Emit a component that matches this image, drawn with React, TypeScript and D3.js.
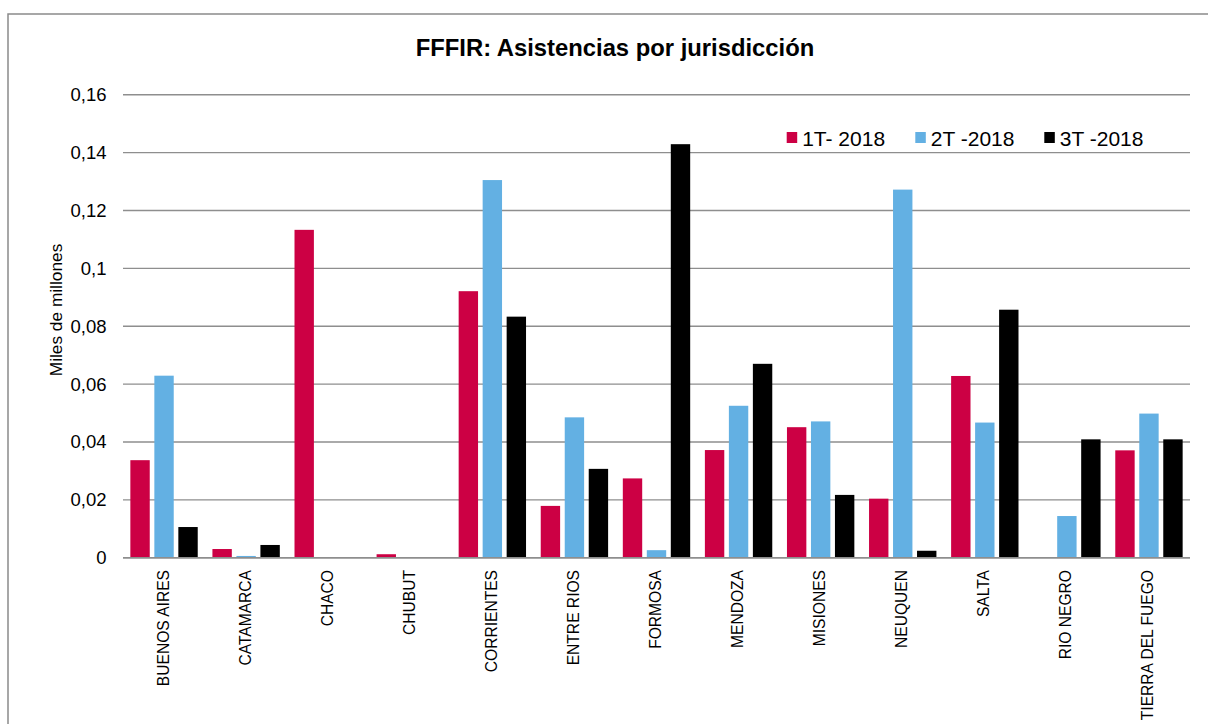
import React from "react";
import * as d3 from "d3";

const categories = [
  "BUENOS AIRES", "CATAMARCA", "CHACO", "CHUBUT", "CORRIENTES", "ENTRE RIOS",
  "FORMOSA", "MENDOZA", "MISIONES", "NEUQUEN", "SALTA", "RIO NEGRO", "TIERRA DEL FUEGO",
];
const seriesNames = ["1T- 2018", "2T -2018", "3T -2018"];
const s1 = [0.0337, 0.0030, 0.1133, 0.0012, 0.0921, 0.0179, 0.0274, 0.0372, 0.0451, 0.0204, 0.0628, 0, 0.0371];
const s2 = [0.0629, 0.0006, 0, 0, 0.1305, 0.0485, 0.0026, 0.0525, 0.0471, 0.1272, 0.0467, 0.0144, 0.0498];
const s3 = [0.0106, 0.0044, 0, 0, 0.0833, 0.0307, 0.1429, 0.0670, 0.0217, 0.0024, 0.0857, 0.0409, 0.0409];
const yTicks = [0, 0.02, 0.04, 0.06, 0.08, 0.1, 0.12, 0.14, 0.16];
const yTickLabels = ["0", "0,02", "0,04", "0,06", "0,08", "0,1", "0,12", "0,14", "0,16"];
const colors = ["#CC0044", "#63B0E3", "#000000"];

const W = 1208, H = 724;
const left = 123, right = 1190, top = 94.7, bottom = 557.7;

export default function App() {
  const values = [s1, s2, s3];
  const x0 = d3.scaleBand<string>().domain(categories).range([left, right]).padding(0);
  const inset = 7.35;
  const x1 = d3.scaleBand<string>().domain(seriesNames)
    .range([inset, x0.bandwidth() - inset]).paddingInner(0.192).paddingOuter(0);
  const y = d3.scaleLinear().domain([0, 0.16]).range([bottom, top]);
  const font = "Liberation Sans, Arial, sans-serif";
  const legendX = [786.7, 915.3, 1044.3];

  return (
    <svg width={W} height={H} style={{ position: "absolute", left: 0, top: 0, background: "#fff" }}
      fontFamily={font}>
      <rect x={0} y={0} width={W} height={H} fill="#fff" />
      <rect x={8} y={14} width={1400} height={1000} fill="#fff" stroke="#8a8a8a" strokeWidth={1.5} />
      <text x={615} y={56} textAnchor="middle" fontSize={23.8} fontWeight="bold" fill="#000">
        FFFIR: Asistencias por jurisdicción
      </text>
      {yTicks.map((t, i) => (
        <g key={t}>
          <line x1={left} x2={right} y1={y(t)} y2={y(t)} stroke="#8e8e8e" strokeWidth={1.4} />
          <text x={106.5} y={y(t)} dy="0.35em" textAnchor="end" fontSize={18.5} fill="#000">
            {yTickLabels[i]}
          </text>
        </g>
      ))}
      <text transform={`translate(61.5,310) rotate(-90)`} textAnchor="middle" fontSize={17.3} fill="#000">
        Miles de millones
      </text>
      {categories.map((c, ci) => (
        <g key={c} transform={`translate(${x0(c)},0)`}>
          {seriesNames.map((s, si) => {
            const v = values[si][ci];
            if (v <= 0) return null;
            return (
              <rect key={s} x={x1(s)} y={y(v)} width={x1.bandwidth()} height={y(0) - y(v)}
                fill={colors[si]} />
            );
          })}
        </g>
      ))}
      <line x1={left} x2={right} y1={y(0)} y2={y(0)} stroke="#8e8e8e" strokeWidth={1.4} />
      {categories.map((c) => (
        <text key={c} transform={`translate(${(x0(c) as number) + x0.bandwidth() / 2 + 4.5},570) rotate(-90)`}
          textAnchor="end" fontSize={15.6} fill="#000">
          {c}
        </text>
      ))}
      {seriesNames.map((s, i) => (
        <g key={s}>
          <rect x={legendX[i]} y={132} width={10.5} height={11} fill={colors[i]} />
          <text x={legendX[i] + 15.5} y={145.5} fontSize={21} fill="#000">{s}</text>
        </g>
      ))}
    </svg>
  );
}
